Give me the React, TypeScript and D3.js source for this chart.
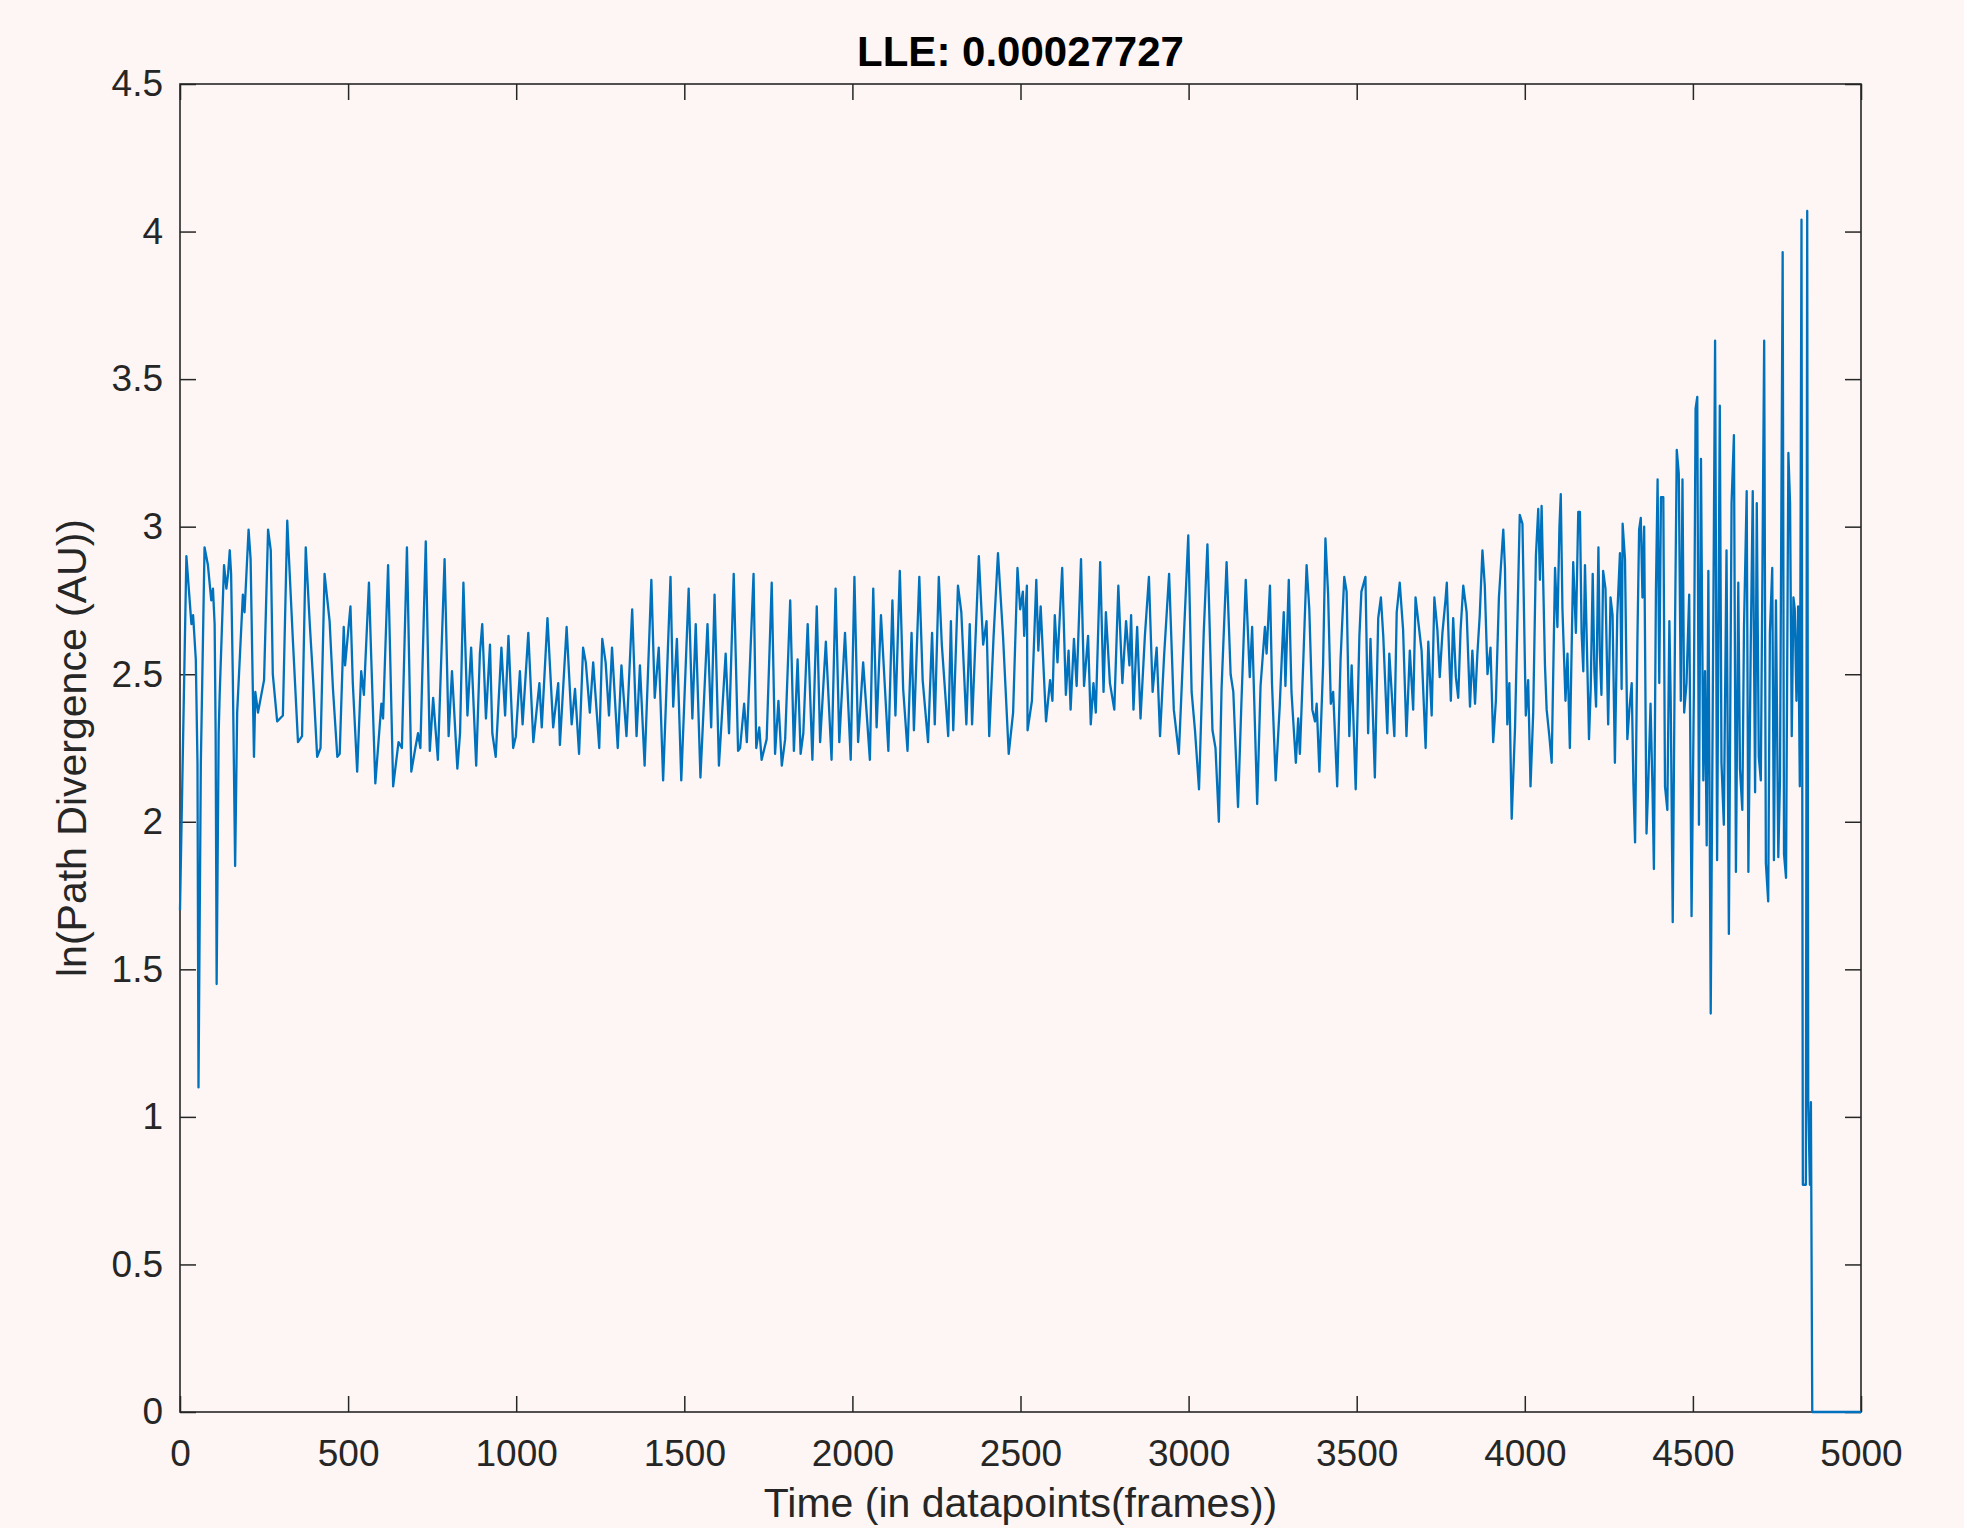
import { useEffect, useRef } from 'react';
import * as d3 from 'd3';

// turning points (frame index, ln divergence)
const frames = [
  0, 19, 34, 39, 47, 52, 55, 62, 73, 83, 93, 98, 103, 106, 109, 115, 118, 131, 138, 143,
  148, 152, 157, 164, 170, 187, 192, 204, 210, 220, 224, 232, 250, 262, 270, 276, 289, 306, 319, 323,
  336, 351, 363, 374, 386, 396, 408, 418, 430, 445, 455, 468, 475, 487, 491, 507, 514, 527, 539, 547,
  562, 569, 581, 599, 604, 619, 634, 650, 660, 675, 688, 700, 708, 715, 731, 743, 753, 767, 787, 799,
  809, 825,
  833, 843, 848, 855, 866, 881, 892, 899, 910, 922, 929, 939, 956, 967, 977, 991, 999, 1011, 1019, 1036,
  1051, 1069, 1076, 1093, 1110, 1125, 1130, 1150, 1165, 1175, 1187, 1199, 1207, 1219, 1229, 1247, 1256, 1266, 1276, 1285,
  1302, 1313, 1328, 1345, 1358, 1368, 1382, 1402, 1412, 1424, 1437, 1459, 1467, 1478, 1491, 1513, 1524, 1534, 1548, 1569,
  1580, 1590, 1603, 1623, 1633, 1647, 1660,
  1666, 1678, 1686, 1706, 1714, 1723, 1730, 1745, 1760, 1770, 1780, 1790, 1800, 1815, 1826, 1837, 1846, 1854, 1867, 1881,
  1894, 1904, 1921, 1938, 1950, 1961, 1978, 1995, 2006, 2017, 2032, 2052, 2062, 2072, 2085, 2107, 2119, 2128, 2141, 2151,
  2164, 2176, 2183, 2199, 2209, 2225, 2237, 2245, 2257, 2266, 2285, 2293, 2300, 2314, 2324, 2339, 2349, 2356, 2376, 2389,
  2399, 2407, 2420, 2433, 2448, 2465, 2478, 2491,
  2499, 2507, 2511, 2519, 2521, 2534, 2547, 2553, 2560, 2576, 2588, 2595, 2602, 2610, 2624, 2635, 2643, 2649, 2659, 2667,
  2680, 2689, 2701, 2709, 2717, 2724, 2737, 2747, 2754, 2766, 2779, 2791, 2803, 2814, 2824, 2829, 2836, 2847, 2857, 2870,
  2882, 2893, 2905, 2915, 2927, 2942, 2956, 2971, 2986, 2999, 3009, 3019, 3031, 3045, 3056, 3071, 3080, 3090, 3098, 3113,
  3125, 3133, 3147, 3157, 3170, 3182, 3189, 3204, 3214, 3227, 3232, 3242, 3248, 3259, 3271, 3283, 3288, 3298, 3306, 3319,
  3326,
  3331, 3341, 3351, 3359, 3368, 3376, 3381, 3389, 3400, 3407, 3415, 3423, 3430, 3442, 3452, 3463, 3470, 3478, 3485, 3497,
  3508, 3514, 3526, 3534, 3541, 3554, 3564, 3572, 3579, 3591, 3597, 3612, 3619, 3628, 3638, 3648, 3658, 3668, 3675, 3685,
  3693, 3705, 3713, 3723, 3731, 3740, 3747, 3755, 3764, 3768, 3774, 3780, 3787, 3795, 3802, 3809, 3817, 3827, 3837, 3844,
  3852, 3859, 3866, 3874, 3881, 3889, 3898, 3906, 3914, 3923, 3936, 3941, 3948, 3954, 3961, 3971, 3985, 3993, 4003, 4010,
  4017, 4025, 4033, 4040, 4045, 4050, 4060, 4065, 4073, 4080, 4090, 4097, 4103, 4107, 4112, 4121, 4127, 4134, 4144, 4152,
  4159,
  4164, 4169, 4174, 4179, 4184, 4191, 4196, 4202, 4207, 4212, 4219, 4223, 4228, 4233, 4240, 4248, 4255, 4261, 4268, 4275,
  4283, 4288, 4291, 4298, 4305, 4311, 4318, 4323, 4328, 4335, 4340, 4345, 4350, 4355, 4362, 4367, 4374, 4380, 4384, 4390,
  4395, 4400, 4405, 4412, 4417, 4424, 4430, 4434, 4440, 4447, 4452, 4458, 4464, 4469, 4474, 4481, 4489, 4496, 4503, 4508,
  4513, 4518, 4524, 4531, 4536, 4541, 4546, 4553, 4559, 4566, 4572, 4580, 4585, 4592, 4600, 4607, 4615, 4622, 4628, 4635,
  4640, 4647, 4652, 4660, 4665, 4672, 4678, 4685, 4690, 4696, 4702, 4707, 4712, 4717, 4724, 4729, 4736, 4741, 4747, 4754,
  4759, 4767, 4771, 4777, 4784, 4789, 4794, 4799, 4803, 4808, 4813, 4818, 4823, 4827, 4836, 4840, 4843, 4848, 4851, 4855,
  5000,
];

const divergence = [
  1.70, 2.90, 2.67, 2.70, 2.55, 2.20, 1.10, 2.20, 2.93, 2.87, 2.75, 2.79, 2.67, 2.30, 1.45, 2.30, 2.43, 2.87, 2.79, 2.84,
  2.92, 2.84, 2.50, 1.85, 2.37, 2.77, 2.71, 2.99, 2.89, 2.22, 2.44, 2.37, 2.48, 2.99, 2.92, 2.50, 2.34, 2.36, 3.02, 2.92,
  2.61, 2.27, 2.29, 2.93, 2.67, 2.48, 2.22, 2.25, 2.84, 2.68, 2.45, 2.22, 2.23, 2.66, 2.53, 2.73, 2.47, 2.17, 2.51, 2.43,
  2.81, 2.55, 2.13, 2.40, 2.35, 2.87, 2.12, 2.27, 2.25, 2.93, 2.17, 2.25, 2.30, 2.25, 2.95, 2.24, 2.42, 2.21, 2.89, 2.29,
  2.51, 2.18,
  2.30, 2.81, 2.62, 2.36, 2.59, 2.19, 2.57, 2.67, 2.35, 2.60, 2.30, 2.22, 2.59, 2.36, 2.63, 2.25, 2.29, 2.51, 2.33, 2.64,
  2.27, 2.47, 2.32, 2.69, 2.32, 2.47, 2.26, 2.66, 2.33, 2.45, 2.23, 2.59, 2.54, 2.37, 2.54, 2.25, 2.62, 2.54, 2.36, 2.59,
  2.25, 2.53, 2.29, 2.72, 2.29, 2.53, 2.19, 2.82, 2.42, 2.59, 2.14, 2.83, 2.39, 2.62, 2.14, 2.79, 2.35, 2.67, 2.15, 2.67,
  2.32, 2.77, 2.19, 2.57, 2.30, 2.84, 2.24,
  2.25, 2.40, 2.27, 2.84, 2.25, 2.32, 2.21, 2.28, 2.81, 2.23, 2.41, 2.19, 2.28, 2.75, 2.24, 2.55, 2.23, 2.30, 2.67, 2.21,
  2.73, 2.27, 2.61, 2.21, 2.79, 2.27, 2.64, 2.21, 2.83, 2.27, 2.54, 2.21, 2.79, 2.32, 2.70, 2.24, 2.75, 2.36, 2.85, 2.45,
  2.24, 2.64, 2.31, 2.83, 2.48, 2.27, 2.64, 2.33, 2.83, 2.60, 2.29, 2.68, 2.31, 2.80, 2.71, 2.33, 2.67, 2.33, 2.90, 2.60,
  2.68, 2.29, 2.63, 2.91, 2.63, 2.23, 2.37, 2.86,
  2.72, 2.78, 2.63, 2.80, 2.31, 2.41, 2.82, 2.58, 2.73, 2.34, 2.48, 2.41, 2.70, 2.54, 2.86, 2.43, 2.58, 2.38, 2.62, 2.46,
  2.89, 2.46, 2.63, 2.33, 2.47, 2.37, 2.88, 2.44, 2.71, 2.47, 2.38, 2.80, 2.47, 2.68, 2.53, 2.70, 2.38, 2.66, 2.35, 2.63,
  2.83, 2.44, 2.59, 2.29, 2.56, 2.84, 2.38, 2.23, 2.63, 2.97, 2.44, 2.31, 2.11, 2.64, 2.94, 2.31, 2.25, 2.00, 2.45, 2.88,
  2.50, 2.44, 2.05, 2.40, 2.82, 2.49, 2.66, 2.06, 2.46, 2.66, 2.57, 2.80, 2.47, 2.14, 2.39, 2.71, 2.46, 2.82, 2.44, 2.20,
  2.35,
  2.23, 2.54, 2.87, 2.72, 2.38, 2.34, 2.40, 2.17, 2.53, 2.96, 2.77, 2.40, 2.44, 2.12, 2.55, 2.83, 2.78, 2.29, 2.53, 2.11,
  2.63, 2.78, 2.83, 2.30, 2.62, 2.15, 2.69, 2.76, 2.63, 2.30, 2.57, 2.29, 2.71, 2.81, 2.65, 2.29, 2.58, 2.38, 2.76, 2.66,
  2.58, 2.25, 2.61, 2.36, 2.76, 2.65, 2.49, 2.64, 2.75, 2.81, 2.60, 2.41, 2.69, 2.49, 2.42, 2.65, 2.80, 2.71, 2.39, 2.58,
  2.40, 2.57, 2.70, 2.92, 2.80, 2.50, 2.59, 2.27, 2.41, 2.76, 2.99, 2.86, 2.33, 2.47, 2.01, 2.32, 3.04, 3.01, 2.36, 2.48,
  2.12, 2.37, 2.90, 3.06, 2.82, 3.07, 2.53, 2.38, 2.29, 2.20, 2.86, 2.66, 3.00, 3.11, 2.72, 2.41, 2.57, 2.25, 2.88, 2.64,
  3.05,
  3.05, 2.64, 2.51, 2.87, 2.63, 2.28, 2.45, 2.84, 2.51, 2.39, 2.93, 2.58, 2.43, 2.85, 2.79, 2.33, 2.76, 2.70, 2.20, 2.70,
  2.91, 2.45, 3.01, 2.89, 2.28, 2.38, 2.47, 2.13, 1.93, 2.62, 2.99, 3.03, 2.76, 3.00, 1.96, 2.12, 2.40, 2.10, 1.84, 2.78,
  3.16, 2.47, 3.10, 3.10, 2.12, 2.04, 2.68, 2.41, 1.66, 2.68, 3.26, 3.18, 2.41, 3.16, 2.37, 2.47, 2.77, 1.68, 2.45, 3.40,
  3.44, 1.99, 3.23, 2.14, 2.51, 1.92, 2.85, 1.35, 2.39, 3.63, 1.87, 3.41, 2.20, 1.99, 2.92, 1.62, 3.08, 3.31, 1.83, 2.81,
  2.18, 2.04, 2.66, 3.12, 1.83, 2.59, 3.12, 2.10, 3.08, 2.22, 2.14, 2.88, 3.63, 1.86, 1.73, 2.64, 2.86, 1.87, 2.75, 1.88,
  2.14, 3.93, 1.89, 1.81, 3.25, 3.08, 2.29, 2.76, 2.72, 2.41, 2.73, 2.12, 4.04, 0.77, 0.77, 4.07, 1.05, 0.77, 1.05, 0,
  0,
];

const xTicks = [0, 500, 1000, 1500, 2000, 2500, 3000, 3500, 4000, 4500, 5000];
const yTicks = [0, 0.5, 1, 1.5, 2, 2.5, 3, 3.5, 4, 4.5];

const title = 'LLE: 0.00027727';
const xLabel = 'Time (in datapoints(frames))';
const yLabel = 'ln(Path Divergence (AU))';

export default function App() {
  const ref = useRef<SVGSVGElement>(null);

  useEffect(() => {
    const width = 1964, height = 1528;
    const m = { left: 180, right: 1861, top: 84, bottom: 1412 };
    const font = '"Liberation Sans", Arial, Helvetica, sans-serif';
    const ink = '#262626';

    const svg = d3.select(ref.current);
    svg.selectAll('*').remove();
    svg.attr('width', width).attr('height', height);

    svg.append('rect').attr('width', width).attr('height', height).attr('fill', '#fdf6f4');

    const x = d3.scaleLinear().domain([0, 5000]).range([m.left, m.right]);
    const y = d3.scaleLinear().domain([0, 4.5]).range([m.bottom, m.top]);

    const styleAxis = (g: any) => {
      g.select('.domain').remove();
      g.selectAll('.tick line').attr('stroke', ink).attr('stroke-width', 1.5);
      g.selectAll('.tick text')
        .attr('fill', ink)
        .attr('font-family', font)
        .attr('font-size', 37);
    };

    svg.append('g')
      .attr('transform', `translate(0,${m.bottom})`)
      .call(d3.axisBottom(x).tickValues(xTicks).tickSize(-16).tickPadding(28).tickFormat(d3.format('d')))
      .call(styleAxis);
    svg.append('g')
      .attr('transform', `translate(0,${m.top})`)
      .call(d3.axisTop(x).tickValues(xTicks).tickSize(-16).tickFormat(() => ''))
      .call(styleAxis);
    svg.append('g')
      .attr('transform', `translate(${m.left},0)`)
      .call(d3.axisLeft(y).tickValues(yTicks).tickSize(-16).tickPadding(17).tickFormat(d => String(d)))
      .call(styleAxis);
    svg.append('g')
      .attr('transform', `translate(${m.right},0)`)
      .call(d3.axisRight(y).tickValues(yTicks).tickSize(-16).tickFormat(() => ''))
      .call(styleAxis);

    svg.append('rect')
      .attr('x', m.left).attr('y', m.top)
      .attr('width', m.right - m.left).attr('height', m.bottom - m.top)
      .attr('fill', 'none').attr('stroke', ink).attr('stroke-width', 1.6);

    const line = d3.line<number>()
      .x((_, i) => x(frames[i]))
      .y(d => y(d));

    svg.append('path')
      .datum(divergence)
      .attr('d', line)
      .attr('fill', 'none')
      .attr('stroke', '#0072bd')
      .attr('stroke-width', 2.3)
      .attr('stroke-linejoin', 'round');

    svg.append('text')
      .attr('x', (m.left + m.right) / 2).attr('y', 66)
      .attr('text-anchor', 'middle')
      .attr('font-family', font).attr('font-size', 42).attr('font-weight', 'bold')
      .attr('fill', '#000')
      .text(title);

    svg.append('text')
      .attr('x', (m.left + m.right) / 2).attr('y', 1517)
      .attr('text-anchor', 'middle')
      .attr('font-family', font).attr('font-size', 41)
      .attr('fill', ink)
      .text(xLabel);

    svg.append('text')
      .attr('transform', `translate(86,${(m.top + m.bottom) / 2}) rotate(-90)`)
      .attr('text-anchor', 'middle')
      .attr('font-family', font).attr('font-size', 41)
      .attr('fill', ink)
      .text(yLabel);
  }, []);

  return (
    <div style={{ position: 'absolute', left: 0, top: 0 }}>
      <svg ref={ref} style={{ display: 'block' }}></svg>
    </div>
  );
}
